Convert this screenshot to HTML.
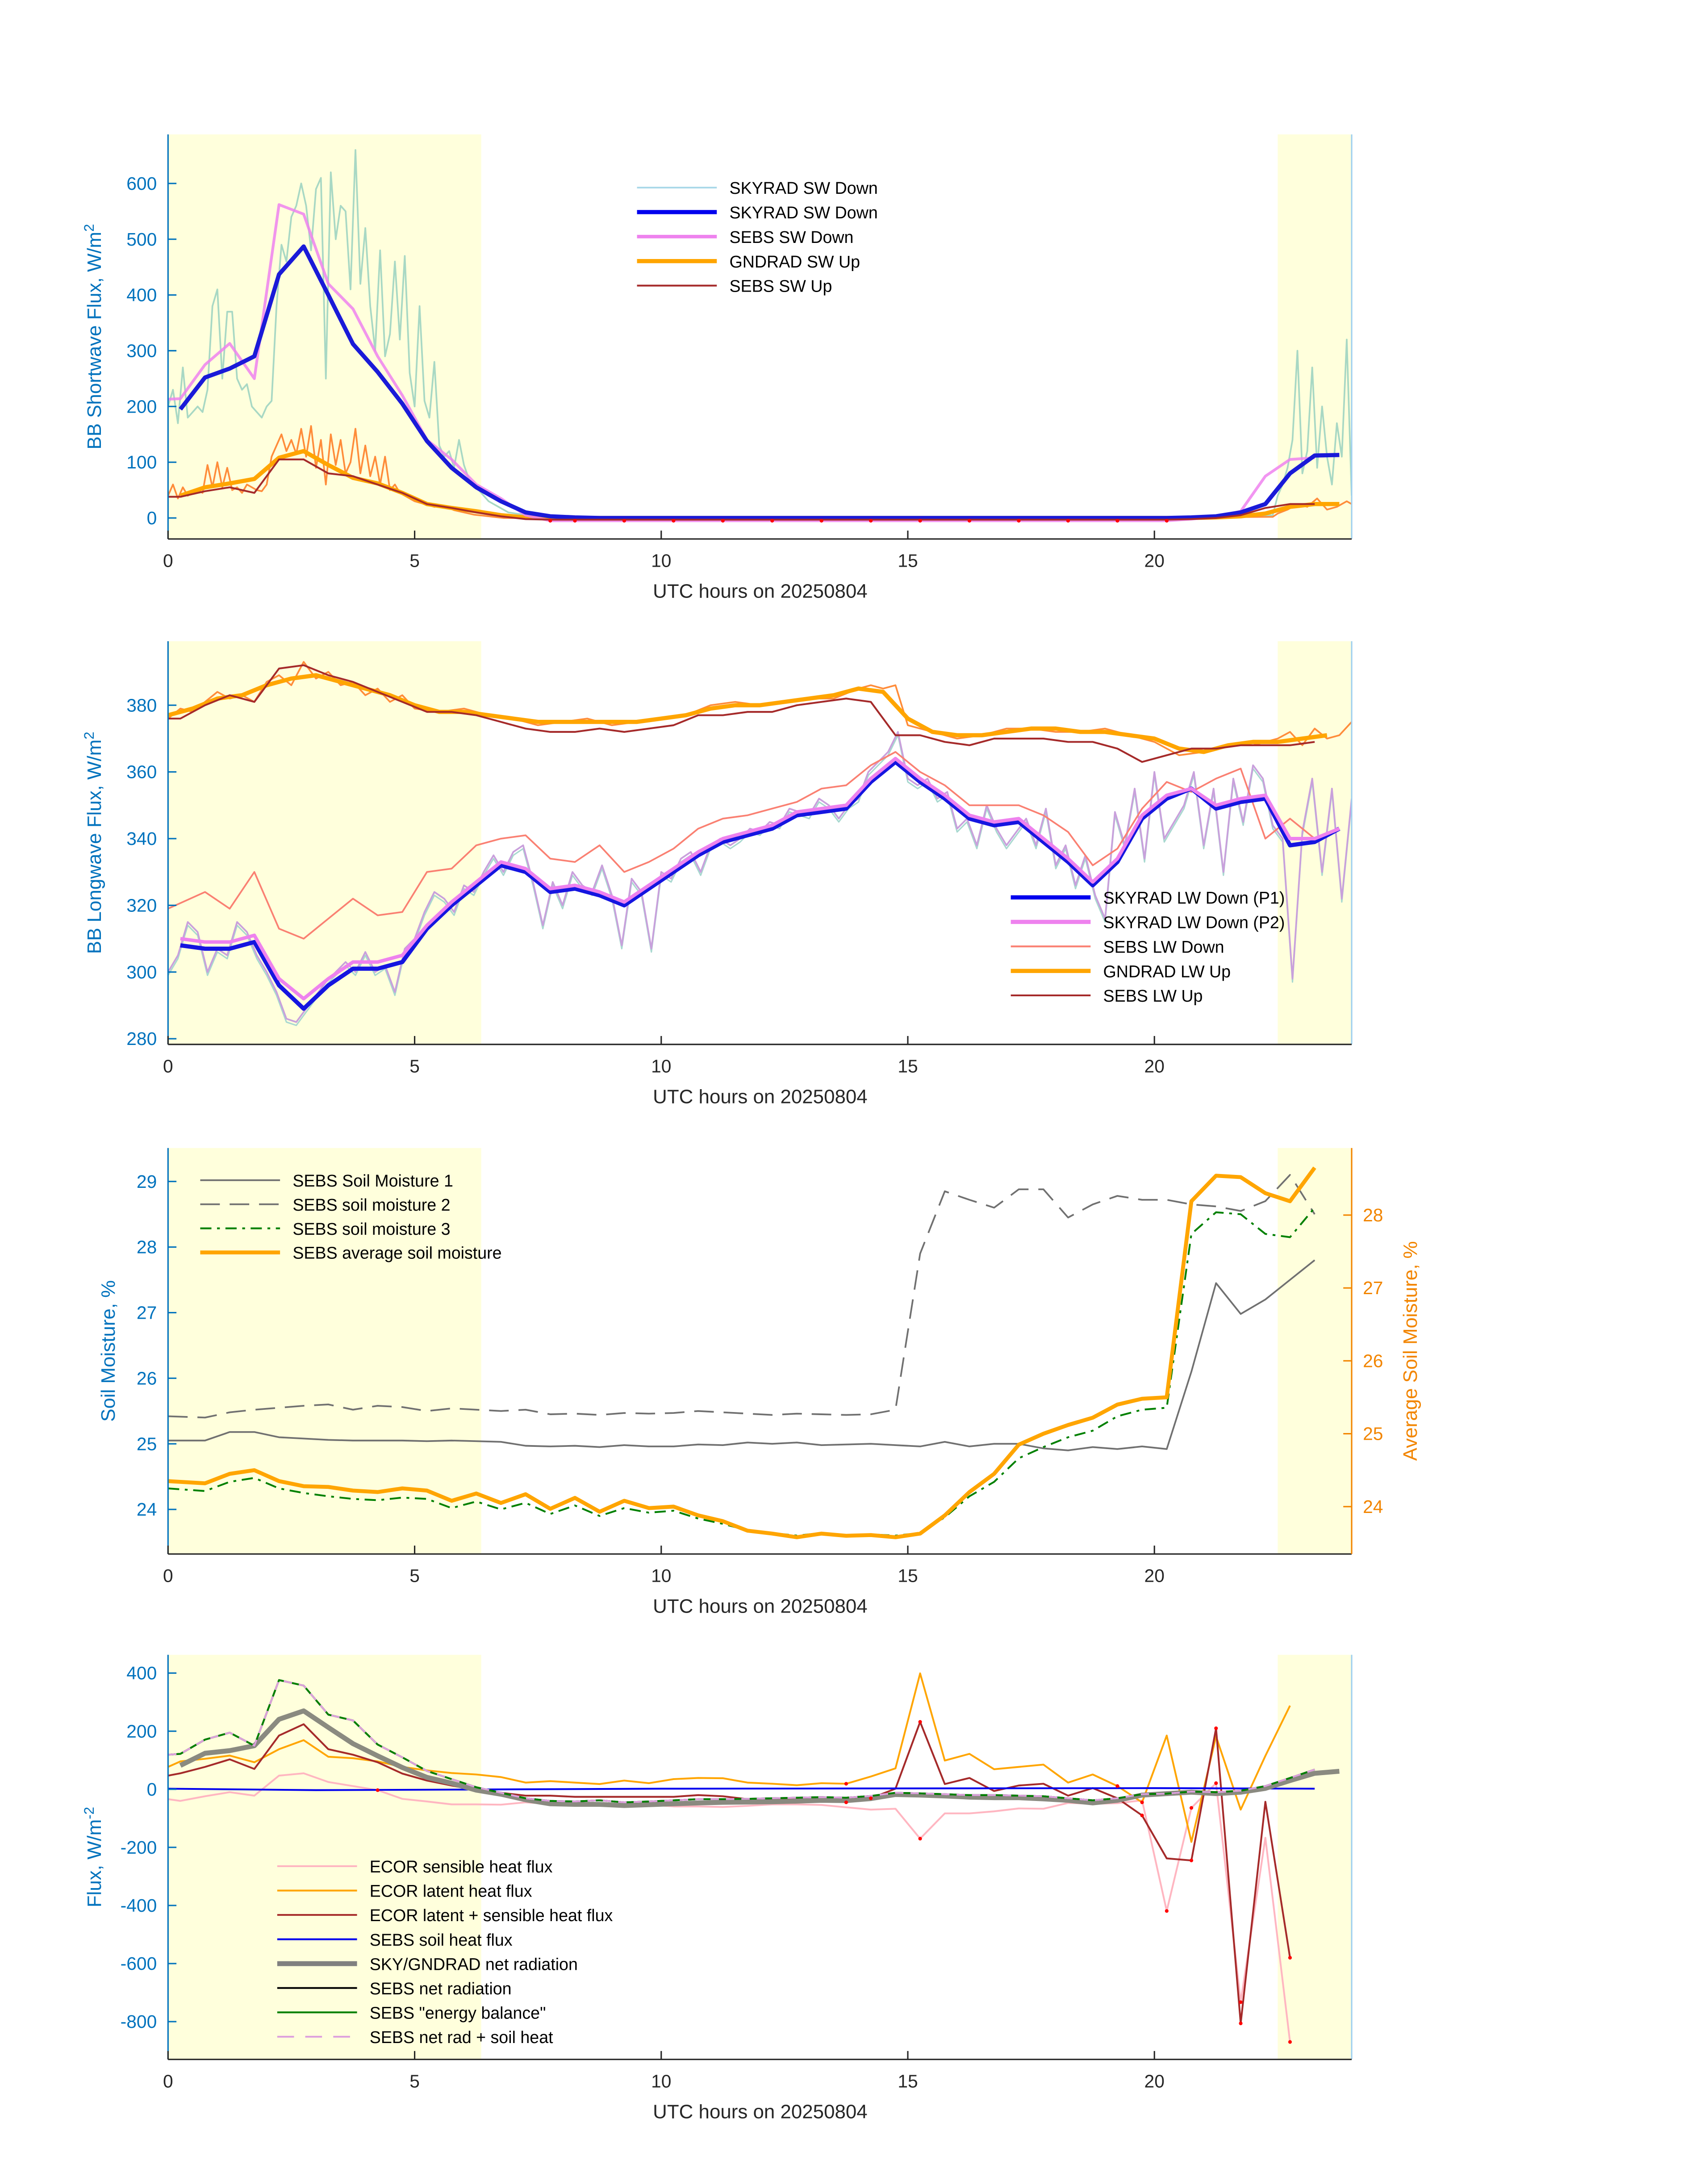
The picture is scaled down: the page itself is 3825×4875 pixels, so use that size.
<!DOCTYPE html>
<html><head><meta charset="utf-8">
<style>
html,body{margin:0;padding:0;background:#fff;}
svg{display:block;font-family:"Liberation Sans","DejaVu Sans",sans-serif;}
</style></head>
<body>
<svg id="fig" xmlns="http://www.w3.org/2000/svg" width="3825" height="4875" viewBox="0 0 1220 1555">
<rect x="0" y="0" width="1220" height="1555" fill="#fff"/>
</svg>
<script>
// ===== Panel 1 data: shortwave =====
const swRawDownHours = [0,0.1,0.2,0.3,0.4,0.5,0.6,0.7,0.8,0.9,1.0,1.1,1.2,1.3,1.4,1.5,1.6,1.7,1.8,1.9,2.0,2.1,2.2,2.3,2.4,2.5,2.6,2.7,2.8,2.9,3.0,3.1,3.2,3.3,3.4,3.5,3.6,3.7,3.8,3.9,4.0,4.1,4.2,4.3,4.4,4.5,4.6,4.7,4.8,4.9,5.0,5.1,5.2,5.3,5.4,5.5,5.6,5.7,5.8,5.9,6.0,6.1,6.2,6.3,6.4,6.5,6.6,6.7,6.8,6.9,7.5,10,15,20,22.4,22.5,22.6,22.7,22.8,22.9,23.0,23.1,23.2,23.3,23.4,23.5,23.6,23.7,23.8,23.9,24.0];
const swRawDown = [200,230,170,270,180,190,200,190,230,380,410,250,370,370,250,230,240,200,190,180,200,210,380,490,460,540,560,600,560,480,590,610,250,620,500,560,550,410,660,420,520,380,300,480,290,330,460,320,470,260,200,380,210,180,280,130,110,120,90,140,95,70,55,50,40,30,25,20,15,10,2,0,0,0,5,40,60,90,140,300,80,120,270,90,200,110,60,170,110,320,40];
const swRawUpHours = [0,0.1,0.2,0.3,0.4,0.5,0.6,0.7,0.8,0.9,1.0,1.1,1.2,1.3,1.4,1.5,1.6,1.7,1.8,1.9,2.0,2.1,2.2,2.3,2.4,2.5,2.6,2.7,2.8,2.9,3.0,3.1,3.2,3.3,3.4,3.5,3.6,3.7,3.8,3.9,4.0,4.1,4.2,4.3,4.4,4.5,4.6,4.7,4.8,4.9,5.0,5.2,5.4,5.6,5.8,6.0,6.2,6.4,6.6,6.8,7.5,10,15,20,22.4,22.5,22.7,22.9,23.1,23.3,23.5,23.7,23.9,24.0];
const swRawUp = [40,60,35,55,40,45,50,45,95,55,100,55,90,50,55,45,60,55,50,48,60,110,130,150,120,140,115,160,110,165,90,140,60,150,95,140,80,100,160,80,130,75,110,60,110,50,60,45,40,35,30,25,20,22,14,10,6,4,2,0,0,1,2,1,2,8,15,25,20,35,15,20,30,25];
const hourly = [0.25,0.75,1.25,1.75,2.25,2.75,3.25,3.75,4.25,4.75,5.25,5.75,6.25,6.75,7.25,7.75,8.25,8.75,9.25,9.75,10.25,10.75,11.25,11.75,12.25,12.75,13.25,13.75,14.25,14.75,15.25,15.75,16.25,16.75,17.25,17.75,18.25,18.75,19.25,19.75,20.25,20.75,21.25,21.75,22.25,22.75,23.25,23.75];
const skySwDown = [195,252,268,290,437,487,400,312,262,205,138,90,55,30,10,3,1,0,0,0,0,0,0,0,0,0,0,0,0,0,0,0,0,0,0,0,0,0,0,0,0,1,3,10,25,80,112,113];
const sebsSwDownHours = [0,0.25,0.75,1.25,1.75,2.25,2.75,3.25,3.75,4.25,4.75,5.25,5.75,6.25,6.75,7.25,7.75,8.25,8.75,9.25,9.75,10.25,10.75,11.25,11.75,12.25,12.75,13.25,13.75,14.25,14.75,15.25,15.75,16.25,16.75,17.25,17.75,18.25,18.75,19.25,19.75,20.25,20.75,21.25,21.75,22.25,22.75,23.25];
const sebsSwDown = [213,214,275,313,250,562,545,420,375,290,220,140,105,60,35,5,-5,-5,-5,-5,-5,-5,-5,-5,-5,-5,-5,-5,-5,-5,-5,-5,-5,-5,-5,-5,-5,-5,-5,-5,-5,-5,-2,2,12,75,105,108];
const gndSwUp = [40,55,62,70,108,120,95,72,62,45,25,18,12,5,1,0,0,0,0,0,0,0,0,0,0,0,0,0,0,0,0,0,0,0,0,0,0,0,0,0,0,0,1,3,8,20,25,25];
const sebsSwUp = [38,38,48,55,45,105,105,80,75,60,45,25,18,10,3,-2,-3,-3,-3,-3,-3,-3,-3,-3,-3,-3,-3,-3,-3,-3,-3,-3,-3,-3,-3,-3,-3,-3,-3,-3,-3,-3,-2,0,5,18,25,25];
const swDotHours = [7.75,8.25,9.25,10.25,11.25,12.25,13.25,14.25,15.25,16.25,17.25,18.25,19.25,20.25];
const swDotVals = [-5,-5,-5,-5,-5,-5,-5,-5,-5,-5,-5,-5,-5,-5];

// ===== Panel 2 data: longwave =====
const skyLwDownP1 = [308,307,307,309,296,289,296,301,301,303,313,320,326,332,330,324,325,323,320,325,330,335,339,341,343,347,348,349,357,363,357,352,346,344,345,339,333,326,333,346,352,355,349,351,352,338,339,343];
const skyLwDownP2 = [310,309,309,311,298,292,298,303,303,305,314,321,327,333,331,325,326,324,321,326,331,336,340,342,344,348,349,350,358,364,358,353,347,345,346,340,334,327,334,347,353,355,350,352,353,340,340,343];
const sebsLwDownHours = [0,0.75,1.25,1.75,2.25,2.75,3.25,3.75,4.25,4.75,5.25,5.75,6.25,6.75,7.25,7.75,8.25,8.75,9.25,9.75,10.25,10.75,11.25,11.75,12.25,12.75,13.25,13.75,14.25,14.75,15.25,15.75,16.25,16.75,17.25,17.75,18.25,18.75,19.25,19.75,20.25,20.75,21.25,21.75,22.25,22.75,23.25];
const sebsLwDown = [319,324,319,330,313,310,316,322,317,318,330,331,338,340,341,334,333,338,330,333,337,343,346,347,349,351,355,356,362,366,360,356,350,350,350,347,342,332,337,349,357,354,358,361,340,346,340];
const gndLwUpHours = [0,0.5,1,1.5,2,2.5,3,3.5,4,4.5,5,5.5,6,6.5,7,7.5,8,8.5,9,9.5,10,10.5,11,11.5,12,12.5,13,13.5,14,14.5,15,15.5,16,16.5,17,17.5,18,18.5,19,19.5,20,20.5,21,21.5,22,22.5,23,23.5];
const gndLwUp = [377,379,382,383,386,388,389,387,385,383,380,378,378,377,376,375,375,375,375,375,376,377,379,380,380,381,382,383,385,384,376,372,371,371,372,373,373,372,372,371,370,367,366,368,369,369,370,371];
const sebsLwUpHours = [0,0.25,0.75,1.25,1.75,2.25,2.75,3.25,3.75,4.25,4.75,5.25,5.75,6.25,6.75,7.25,7.75,8.25,8.75,9.25,9.75,10.25,10.75,11.25,11.75,12.25,12.75,13.25,13.75,14.25,14.75,15.25,15.75,16.25,16.75,17.25,17.75,18.25,18.75,19.25,19.75,20.25,20.75,21.25,21.75,22.25,22.75,23.25];
const sebsLwUp = [376,376,380,383,381,391,392,389,387,384,381,378,378,377,375,373,372,372,373,372,373,374,377,377,378,378,380,381,382,381,371,371,369,368,370,370,370,369,369,367,363,365,367,367,368,368,368,369];
const lwRawHours = [0,0.2,0.4,0.6,0.8,1.0,1.2,1.4,1.6,1.8,2.0,2.2,2.4,2.6,2.8,3.0,3.2,3.4,3.6,3.8,4.0,4.2,4.4,4.6,4.8,5.0,5.2,5.4,5.6,5.8,6.0,6.2,6.4,6.6,6.8,7.0,7.2,7.4,7.6,7.8,8.0,8.2,8.4,8.6,8.8,9.0,9.2,9.4,9.6,9.8,10.0,10.2,10.4,10.6,10.8,11.0,11.2,11.4,11.6,11.8,12.0,12.2,12.4,12.6,12.8,13.0,13.2,13.4,13.6,13.8,14.0,14.2,14.4,14.6,14.8,15.0,15.2,15.4,15.6,15.8,16.0,16.2,16.4,16.6,16.8,17.0,17.2,17.4,17.6,17.8,18.0,18.2,18.4,18.6,18.8,19.0,19.2,19.4,19.6,19.8,20.0,20.2,20.4,20.6,20.8,21.0,21.2,21.4,21.6,21.8,22.0,22.2,22.4,22.6,22.8,23.0,23.2,23.4,23.6,23.8,24.0];
const lwRawDown = [300,305,315,312,300,307,305,315,312,305,300,294,286,285,289,293,297,300,303,300,306,300,302,294,307,310,318,324,322,318,326,324,330,335,330,336,338,327,314,327,320,330,326,324,332,323,308,328,324,307,330,328,334,336,330,338,340,338,340,343,342,345,344,349,348,347,352,350,346,350,352,360,363,366,372,358,356,358,352,354,343,346,338,350,343,338,342,346,338,349,332,338,326,335,323,316,348,338,355,334,360,340,345,350,360,338,355,330,358,345,362,358,344,340,298,342,358,330,355,322,352];
const lwRawUpHours = [0,0.25,0.5,0.75,1,1.25,1.5,1.75,2,2.25,2.5,2.75,3,3.25,3.5,3.75,4,4.25,4.5,4.75,5,5.5,6,6.5,7,7.5,8,8.5,9,9.5,10,10.5,11,11.5,12,12.5,13,13.5,14,14.25,14.5,14.75,15,15.5,16,16.5,17,17.5,18,18.5,19,19.5,20,20.5,21,21.5,22,22.5,22.75,23,23.25,23.5,23.75,24];
const lwRawUp = [376,379,378,381,384,382,383,381,387,389,386,393,388,390,386,387,383,385,381,383,379,378,379,377,376,374,375,376,374,375,376,377,380,381,380,381,382,382,385,386,385,386,374,372,370,371,373,373,372,372,373,371,369,365,366,368,368,370,372,368,373,370,371,375];

// ===== Panel 3 data: soil moisture =====
const smHours = [0,0.75,1.25,1.75,2.25,2.75,3.25,3.75,4.25,4.75,5.25,5.75,6.25,6.75,7.25,7.75,8.25,8.75,9.25,9.75,10.25,10.75,11.25,11.75,12.25,12.75,13.25,13.75,14.25,14.75,15.25,15.75,16.25,16.75,17.25,17.75,18.25,18.75,19.25,19.75,20.25,20.75,21.25,21.75,22.25,22.75,23.25];
const soilM1 = [25.05,25.05,25.18,25.18,25.1,25.08,25.06,25.05,25.05,25.05,25.04,25.05,25.04,25.03,24.97,24.96,24.97,24.95,24.98,24.96,24.96,24.99,24.98,25.02,25.0,25.02,24.98,24.99,25.0,24.98,24.96,25.03,24.96,25.0,25.0,24.93,24.9,24.95,24.92,24.96,24.92,26.1,27.45,26.98,27.2,27.5,27.8];
const soilM2 = [25.42,25.4,25.48,25.52,25.55,25.58,25.6,25.52,25.58,25.56,25.5,25.54,25.52,25.5,25.52,25.45,25.46,25.44,25.47,25.46,25.47,25.5,25.48,25.46,25.44,25.46,25.45,25.44,25.45,25.52,27.9,28.85,28.72,28.6,28.88,28.88,28.45,28.65,28.78,28.72,28.72,28.65,28.62,28.55,28.7,29.1,28.5];
const soilM3 = [24.32,24.28,24.42,24.48,24.32,24.25,24.2,24.16,24.14,24.18,24.16,24.02,24.12,24.0,24.1,23.93,24.06,23.9,24.02,23.95,23.98,23.86,23.78,23.68,23.64,23.6,23.64,23.61,23.62,23.6,23.64,23.88,24.2,24.42,24.78,24.95,25.1,25.2,25.42,25.52,25.55,28.2,28.53,28.5,28.2,28.15,28.6];
const soilAvg = [24.35,24.32,24.45,24.5,24.35,24.28,24.27,24.22,24.2,24.25,24.22,24.08,24.18,24.05,24.17,23.97,24.12,23.93,24.08,23.98,24.0,23.88,23.8,23.67,23.63,23.58,23.63,23.6,23.61,23.58,23.63,23.88,24.2,24.45,24.85,25.0,25.12,25.22,25.4,25.48,25.5,28.19,28.54,28.52,28.3,28.19,28.65];

// ===== Panel 4 data: fluxes =====
const fluxHours = [0,0.25,0.75,1.25,1.75,2.25,2.75,3.25,3.75,4.25,4.75,5.25,5.75,6.25,6.75,7.25,7.75,8.25,8.75,9.25,9.75,10.25,10.75,11.25,11.75,12.25,12.75,13.25,13.75,14.25,14.75,15.25,15.75,16.25,16.75,17.25,17.75,18.25,18.75,19.25,19.75,20.25,20.75,21.25,21.75,22.25,22.75,23.25];
const sebsNet = [119,122,171,195,150,376,357,257,237,154,110,63,35,7,-12,-31,-40,-42,-38,-45,-42,-38,-34,-34,-33,-31,-29,-27,-29,-23,-12,-14,-17,-20,-20,-22,-24,-31,-38,-31,-17,-15,-8,-10,-5,11,39,68];
const skyNetHours = [0.25,0.75,1.25,1.75,2.25,2.75,3.25,3.75,4.25,4.75,5.25,5.75,6.25,6.75,7.25,7.75,8.25,8.75,9.25,9.75,10.25,10.75,11.25,11.75,12.25,12.75,13.25,13.75,14.25,14.75,15.25,15.75,16.25,16.75,17.25,17.75,18.25,18.75,19.25,19.75,20.25,20.75,21.25,21.75,22.25,22.75,23.25,23.75];
const skyNet = [82,124,133,150,241,270,213,157,115,75,41,21,-3,-17,-36,-50,-52,-52,-56,-53,-50,-47,-45,-44,-43,-41,-38,-39,-32,-18,-20,-23,-27,-29,-29,-33,-38,-47,-38,-20,-15,-10,-15,-10,3,30,55,62];
const ecorHours = [0,0.25,0.75,1.25,1.75,2.25,2.75,3.25,3.75,4.25,4.75,5.25,5.75,6.25,6.75,7.25,7.75,8.25,8.75,9.25,9.75,10.25,10.75,11.25,11.75,12.25,12.75,13.25,13.75,14.25,14.75,15.25,15.75,16.25,16.75,17.25,17.75,18.25,18.75,19.25,19.75,20.25,20.75,21.25,21.75,22.25,22.75];
const ecorLatent = [77,96,105,116,93,138,169,112,107,96,77,65,56,51,42,23,28,23,18,30,21,35,39,38,23,19,14,21,19,44,72,399,99,122,69,77,85,23,51,11,-45,185,-181,182,-70,115,288];
const ecorSensible = [-34,-40,-24,-10,-22,47,55,25,11,-3,-33,-42,-52,-52,-53,-45,-50,-50,-54,-50,-53,-59,-59,-61,-57,-52,-52,-54,-62,-70,-67,-170,-83,-83,-76,-66,-67,-47,-50,-48,-38,-419,-64,21,-733,-167,-870];
const ecorSum = [47,55,77,103,70,185,224,138,119,93,54,30,13,-3,-12,-22,-22,-26,-26,-26,-26,-26,-20,-24,-34,-34,-34,-34,-45,-31,2,232,18,39,-6,13,19,-22,4,-31,-90,-238,-245,210,-806,-43,-580];
const soilHeatHours = [0,3,6,10,15,20,23.25];
const soilHeat = [2,-3,-1,2,3,4,2];
const fluxDotHours = [4.25,13.75,13.75,14.25,15.25,15.25,19.25,19.75,19.75,20.25,20.75,20.75,21.25,21.25,21.75,21.75,22.75,22.75];
const fluxDotVals = [-3,19,-45,-31,232,-170,11,-45,-90,-419,-64,-245,210,21,-733,-806,-580,-870];

// ===== drawing =====
const NS = 'http://www.w3.org/2000/svg';
const svg = document.getElementById('fig');
const X0 = 120, X1 = 965.5;
const sx = h => X0 + (h / 24) * (X1 - X0);
function mk(tag, attrs, parent) {
  const e = document.createElementNS(NS, tag);
  for (const k in attrs) e.setAttribute(k, attrs[k]);
  (parent || svg).appendChild(e);
  return e;
}
function scaleY(top, bot, lo, hi) { return v => bot - (v - lo) / (hi - lo) * (bot - top); }

function panel(id, top, bot) {
  const g = mk('g', {});
  
  
  const cp = mk('clipPath', { id: 'clip-' + id }, g);
  mk('rect', { x: X0, y: top, width: X1 - X0, height: bot - top }, cp);
  const s1 = mk('rect', { x: sx(0), y: top, width: sx(6.35) - sx(0), height: bot - top, fill: '#ffffdc' }, g);
  
  
  const s2 = mk('rect', { x: sx(22.5), y: top, width: X1 - sx(22.5), height: bot - top, fill: '#ffffdc' }, g);
  
  
  const plot = mk('g', { 'clip-path': 'url(#clip-' + id + ')' }, g);
  
  
  return { g, plot, top, bot };
}
function line(parent, xs, ys, sy, color, w, name, extra) {
  let d = '';
  for (let i = 0; i < xs.length && i < ys.length; i++) d += (i ? 'L' : 'M') + sx(xs[i]).toFixed(2) + ',' + sy(ys[i]).toFixed(2);
  const p = mk('path', Object.assign({ d, fill: 'none', stroke: color, 'stroke-width': w, 'stroke-linejoin': 'round' }, extra || {}), parent);
  
  
  return p;
}
function dots(parent, xs, ys, sy, name) {
  for (let i = 0; i < xs.length; i++) {
    const c = mk('circle', { cx: sx(xs[i]), cy: sy(ys[i]), r: 1.3, fill: '#ff0000' }, parent);
    
    
  }
}
function text(parent, x, y, s, attrs) {
  const t = mk('text', Object.assign({ x, y, 'font-size': 13, fill: '#262626' }, attrs || {}), parent);
  t.textContent = s;
  return t;
}
function axesFrame(P, sy, ticks, labelText, color, xlabel) {
  const g = P.g;
  const lft = mk('line', { x1: X0, y1: P.top, x2: X0, y2: P.bot, stroke: color, 'stroke-width': 1 }, g);
  
  
  const bt = mk('line', { x1: X0, y1: P.bot, x2: X1, y2: P.bot, stroke: '#262626', 'stroke-width': 1 }, g);
  
  
  for (const v of ticks) {
    const y = sy(v);
    mk('line', { x1: X0, y1: y, x2: X0 + 6, y2: y, stroke: color, 'stroke-width': 1 }, g);
    const t = text(g, X0 - 8, y + 4.5, String(v), { 'text-anchor': 'end', fill: color });
    
    
  }
  for (const h of [0, 5, 10, 15, 20]) {
    mk('line', { x1: sx(h), y1: P.bot, x2: sx(h), y2: P.bot - 6, stroke: '#262626', 'stroke-width': 1 }, g);
    const t = text(g, sx(h), P.bot + 20, String(h), { 'text-anchor': 'middle' });
    
    
  }
  const xl = text(g, 543, P.bot + 42, xlabel, { 'text-anchor': 'middle', 'font-size': 14 });
  
  
  const cy = (P.top + P.bot) / 2;
  const yl = mk('text', { x: 0, y: 0, 'font-size': 14, fill: color, 'text-anchor': 'middle', transform: 'translate(' + labelText.x + ',' + cy + ') rotate(-90)' }, g);
  
  
  yl.textContent = labelText.main;
  if (labelText.sup) {
    const ts = mk('tspan', { dy: -5, 'font-size': 10 }, yl);
    ts.textContent = labelText.sup;
  }
}
function legend(parent, x, y0, dy, entries) {
  const g = mk('g', {}, parent);
  
  
  entries.forEach((e, i) => {
    const y = y0 + i * dy;
    const l = mk('line', Object.assign({ x1: x, y1: y, x2: x + 57, y2: y, stroke: e.c, 'stroke-width': e.w }, e.extra || {}), g);
    
    
    const t = text(g, x + 66, y + 4.5, e.t, { 'font-size': 12, fill: '#000' });
    
    
  });
}
const BLUE = '#0072bd', XL = 'UTC hours on 20250804';

// Panel 1
{
  const P = panel('shortwave', 96, 385);
  const sy = scaleY(96, 385, -37.7, 688);
  line(P.plot, swRawDownHours, swRawDown, sy, '#a8d8c4', 1.2, 'skyrad-sw-down-raw');
  line(P.plot, swRawUpHours, swRawUp, sy, '#ff8c3a', 1.2, 'gndrad-sw-up-raw');
  line(P.plot, hourly, gndSwUp, sy, '#ffa500', 3, 'gndrad-sw-up');
  line(P.plot, sebsSwDownHours, sebsSwDown, sy, '#ee82ee', 2, 'sebs-sw-down', { opacity: 0.85 });
  line(P.plot, hourly, skySwDown, sy, '#1a1ad8', 3, 'skyrad-sw-down');
  line(P.plot, sebsSwDownHours, sebsSwUp, sy, '#a52a2a', 1.3, 'sebs-sw-up');
  dots(P.plot, swDotHours, swDotVals, sy, 'missing-data-marker');
  mk('line', { x1: X1, y1: 96, x2: X1, y2: 385, stroke: '#9fd0f0', 'stroke-width': 1 }, P.g);
  axesFrame(P, sy, [0, 100, 200, 300, 400, 500, 600], { x: 72, main: 'BB Shortwave Flux, W/m', sup: '2' }, BLUE, XL);
  legend(P.g, 455, 134, 17.5, [
    { c: '#a8d8e8', w: 1.2, t: 'SKYRAD SW Down' },
    { c: '#0000ee', w: 3, t: 'SKYRAD SW Down' },
    { c: '#ee82ee', w: 2.5, t: 'SEBS SW Down' },
    { c: '#ffa500', w: 3, t: 'GNDRAD SW Up' },
    { c: '#a52a2a', w: 1.3, t: 'SEBS SW Up' }]);
}
// Panel 2
{
  const P = panel('longwave', 458, 746);
  const sy = scaleY(458, 746, 278.3, 399.2);
  line(P.plot, lwRawHours, lwRawDown.map(v => v - 1), sy, '#a8d8d0', 1, 'skyrad-lw-down-raw-p1');
  line(P.plot, lwRawHours, lwRawDown, sy, '#c9a0dc', 1.2, 'skyrad-lw-down-raw-p2');
  line(P.plot, lwRawUpHours, lwRawUp, sy, '#ff8c3a', 1.2, 'gndrad-lw-up-raw');
  line(P.plot, sebsLwDownHours, sebsLwDown, sy, '#fa8072', 1.2, 'sebs-lw-down');
  line(P.plot, gndLwUpHours, gndLwUp, sy, '#ffa500', 3, 'gndrad-lw-up');
  line(P.plot, sebsLwUpHours, sebsLwUp, sy, '#a52a2a', 1.3, 'sebs-lw-up');
  line(P.plot, hourly, skyLwDownP1, sy, '#1515e0', 3, 'skyrad-lw-down-p1');
  line(P.plot, hourly, skyLwDownP2, sy, '#ee82ee', 2.5, 'skyrad-lw-down-p2');
  mk('line', { x1: X1, y1: 458, x2: X1, y2: 746, stroke: '#9fd0f0', 'stroke-width': 1 }, P.g);
  axesFrame(P, sy, [280, 300, 320, 340, 360, 380], { x: 72, main: 'BB Longwave Flux, W/m', sup: '2' }, BLUE, XL);
  legend(P.g, 722, 641, 17.5, [
    { c: '#0000ee', w: 3, t: 'SKYRAD LW Down (P1)' },
    { c: '#ee82ee', w: 3, t: 'SKYRAD LW Down (P2)' },
    { c: '#fa8072', w: 1.3, t: 'SEBS LW Down' },
    { c: '#ffa500', w: 3, t: 'GNDRAD LW Up' },
    { c: '#a52a2a', w: 1.3, t: 'SEBS LW Up' }]);
}
// Panel 3
{
  const P = panel('soil-moisture', 820, 1110);
  const sy = scaleY(820, 1110, 23.32, 29.51);
  const sy2 = scaleY(820, 1110, 23.35, 28.92);
  line(P.plot, smHours, soilM1, sy, '#707070', 1.2, 'sebs-soil-moisture-1');
  line(P.plot, smHours, soilM2, sy, '#707070', 1.2, 'sebs-soil-moisture-2', { 'stroke-dasharray': '14,7' });
  line(P.plot, smHours, soilM3, sy, '#008000', 1.3, 'sebs-soil-moisture-3', { 'stroke-dasharray': '8,4,2,4' });
  line(P.plot, smHours, soilAvg, sy2, '#ffa500', 2.8, 'sebs-average-soil-moisture');
  axesFrame(P, sy, [24, 25, 26, 27, 28, 29], { x: 82, main: 'Soil Moisture, %' }, BLUE, XL);
  const OR = '#f28500';
  const r = mk('line', { x1: X1, y1: 820, x2: X1, y2: 1110, stroke: OR, 'stroke-width': 1 }, P.g);
  
  
  for (const v of [24, 25, 26, 27, 28]) {
    mk('line', { x1: X1, y1: sy2(v), x2: X1 - 6, y2: sy2(v), stroke: OR, 'stroke-width': 1 }, P.g);
    const t = text(P.g, X1 + 8, sy2(v) + 4.5, String(v), { fill: OR });
    
    
  }
  const rl = mk('text', { x: 0, y: 0, 'font-size': 14, fill: OR, 'text-anchor': 'middle', transform: 'translate(1012,965) rotate(-90)' }, P.g);
  
  
  rl.textContent = 'Average Soil Moisture, %';
  legend(P.g, 143, 843, 17.2, [
    { c: '#707070', w: 1.2, t: 'SEBS Soil Moisture 1' },
    { c: '#707070', w: 1.2, t: 'SEBS soil moisture 2', extra: { 'stroke-dasharray': '14,7' } },
    { c: '#008000', w: 1.3, t: 'SEBS soil moisture 3', extra: { 'stroke-dasharray': '8,4,2,4' } },
    { c: '#ffa500', w: 2.8, t: 'SEBS average soil moisture' }]);
}
// Panel 4
{
  const P = panel('flux', 1182, 1471);
  const sy = scaleY(1182, 1471, -930, 463);
  line(P.plot, ecorHours, ecorSensible, sy, '#ffb6c1', 1.3, 'ecor-sensible-heat-flux');
  line(P.plot, ecorHours, ecorLatent, sy, '#ffa500', 1.3, 'ecor-latent-heat-flux');
  line(P.plot, ecorHours, ecorSum, sy, '#a52a2a', 1.3, 'ecor-latent-plus-sensible');
  line(P.plot, soilHeatHours, soilHeat, sy, '#0000ee', 1.3, 'sebs-soil-heat-flux');
  line(P.plot, skyNetHours, skyNet, sy, '#8a8a80', 3.5, 'sky-gndrad-net-radiation');
  line(P.plot, fluxHours, sebsNet, sy, '#000000', 1.3, 'sebs-net-radiation');
  line(P.plot, fluxHours, sebsNet, sy, '#008000', 1.3, 'sebs-energy-balance');
  line(P.plot, fluxHours, sebsNet, sy, '#dda0dd', 1.3, 'sebs-net-rad-plus-soil-heat', { 'stroke-dasharray': '6,5' });
  dots(P.plot, fluxDotHours, fluxDotVals, sy, 'flagged-point-marker');
  mk('line', { x1: X1, y1: 1182, x2: X1, y2: 1471, stroke: '#9fd0f0', 'stroke-width': 1 }, P.g);
  axesFrame(P, sy, [-800, -600, -400, -200, 0, 200, 400], { x: 72, main: 'Flux, W/m', sup: '-2' }, BLUE, XL);
  legend(P.g, 198, 1333, 17.4, [
    { c: '#ffb6c1', w: 1.3, t: 'ECOR sensible heat flux' },
    { c: '#ffa500', w: 1.3, t: 'ECOR latent heat flux' },
    { c: '#a52a2a', w: 1.3, t: 'ECOR latent + sensible heat flux' },
    { c: '#0000ee', w: 1.3, t: 'SEBS soil heat flux' },
    { c: '#808080', w: 3.5, t: 'SKY/GNDRAD net radiation' },
    { c: '#000000', w: 1.3, t: 'SEBS net radiation' },
    { c: '#008000', w: 1.3, t: 'SEBS "energy balance"' },
    { c: '#dda0dd', w: 1.3, t: 'SEBS net rad + soil heat', extra: { 'stroke-dasharray': '12,8' } }]);
}
</script>
</body></html>
